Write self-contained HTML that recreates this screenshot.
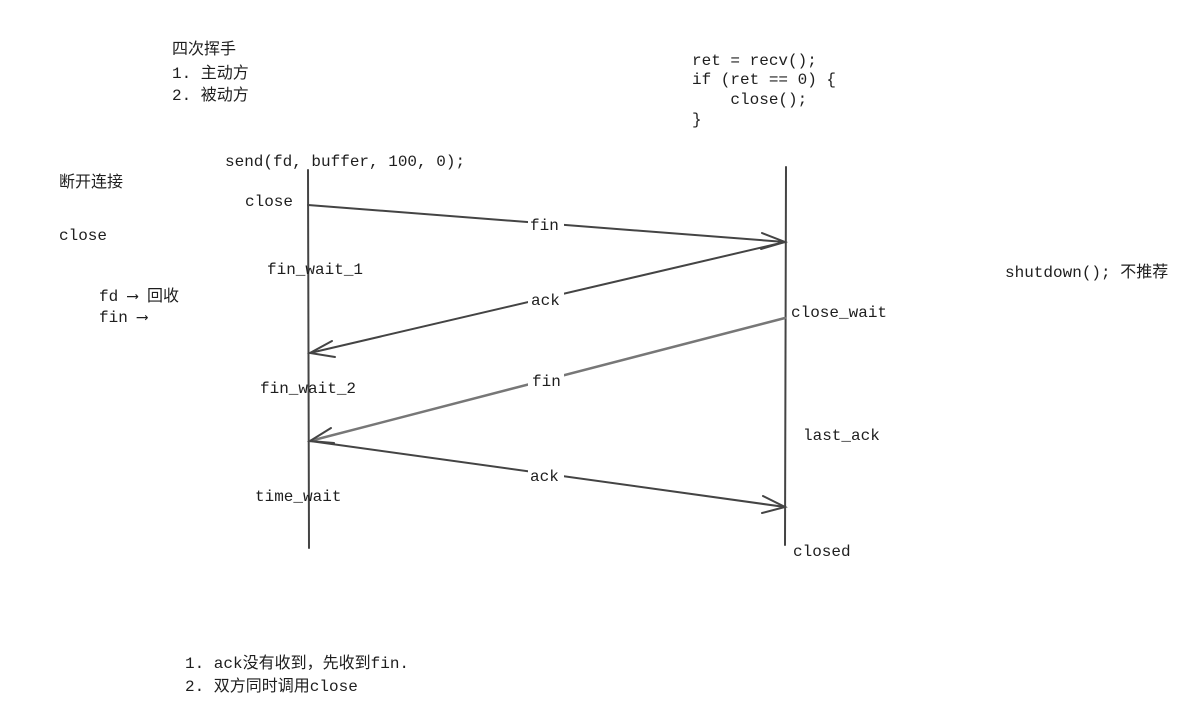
<!DOCTYPE html>
<html><head><meta charset="utf-8"><style>
html,body{margin:0;padding:0;background:#fff;}
svg{display:block}
text{font-family:"Liberation Mono","Noto Sans CJK SC",monospace;font-size:16px;fill:#1e1e1e;white-space:pre;}
</style></head><body>
<svg width="1196" height="722" viewBox="0 0 1196 722" xmlns="http://www.w3.org/2000/svg" xml:space="preserve">
<g stroke="#444" stroke-width="2" fill="none" stroke-linecap="round">
<line x1="308" y1="170" x2="309" y2="548"/>
<line x1="786" y1="167" x2="785" y2="545"/>
<line x1="308" y1="205" x2="785" y2="242"/>
<polyline points="762,233 785,242 761,249"/>
<line x1="785" y1="242" x2="310" y2="353"/>
<polyline points="332,341 310,353 335,357"/>
<line x1="785" y1="318" x2="310" y2="441" stroke="#777" stroke-width="2.5"/>
<polyline points="331,428 310,441 334,443"/>
<line x1="310" y1="441" x2="785" y2="507"/>
<polyline points="763,496 785,507 762,513"/>
</g>
<g fill="#fff">
<rect x="528" y="214" width="36" height="20"/>
<rect x="528" y="290" width="36" height="20"/>
<rect x="528" y="370" width="36" height="20"/>
<rect x="528" y="466" width="36" height="20"/>
</g>
<text x="530" y="230">fin</text>
<text x="531" y="305">ack</text>
<text x="532" y="386">fin</text>
<text x="530" y="481">ack</text>
<text x="172" y="54">四次挥手</text>
<text x="172" y="78">1. 主动方</text>
<text x="172" y="100">2. 被动方</text>
<text x="59" y="187">断开连接</text>
<text x="59" y="240">close</text>
<text x="99" y="301">fd ⟶ 回收</text>
<text x="99" y="322">fin ⟶</text>
<text x="225" y="166">send(fd, buffer, 100, 0);</text>
<text x="245" y="206">close</text>
<text x="267" y="274">fin_wait_1</text>
<text x="260" y="393">fin_wait_2</text>
<text x="255" y="501">time_wait</text>
<text x="791" y="317">close_wait</text>
<text x="803" y="440">last_ack</text>
<text x="793" y="556">closed</text>
<text x="692" y="65">ret = recv();</text>
<text x="692" y="84">if (ret == 0) {</text>
<text x="692" y="104">    close();</text>
<text x="692" y="124">}</text>
<text x="1005" y="277">shutdown(); 不推荐</text>
<text x="185" y="668">1. ack没有收到，先收到fin.</text>
<text x="185" y="691">2. 双方同时调用close</text>
</svg>
</body></html>
